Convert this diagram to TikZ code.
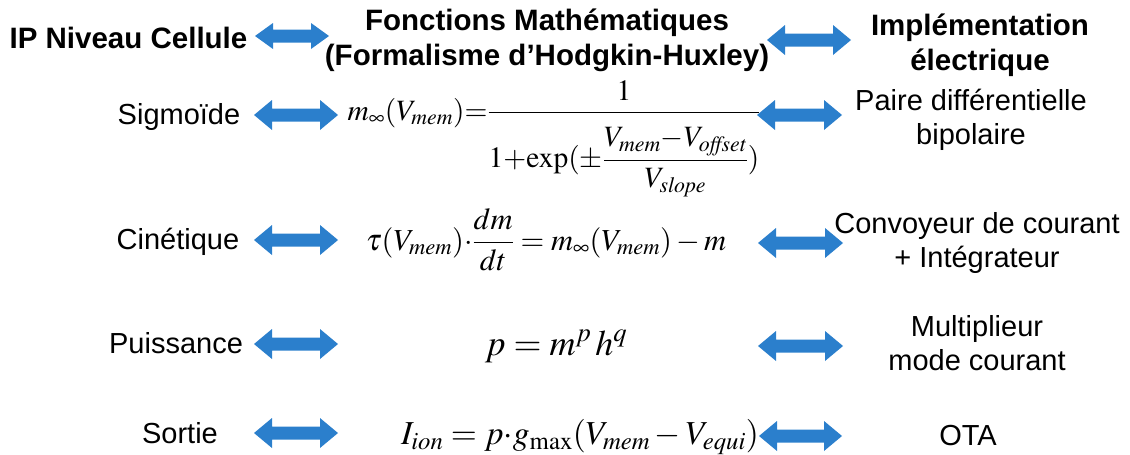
\documentclass[tikz,border=0pt]{standalone}
\usepackage{mathptmx}
\usepackage[no-math]{fontspec}
\setmainfont{Liberation Sans}
\definecolor{arrowblue}{RGB}{43,127,204}
\tikzset{
  blockarrow/.style={fill=arrowblue, draw=none},
  headtxt/.style={font=\fontsize{29.5}{35}\selectfont\bfseries, align=center, inner sep=0pt},
  lbltxt/.style={font=\fontsize{29}{34}\selectfont, align=center, inner sep=0pt},
  eqn/.style={inner sep=0pt, anchor=base}
}
% #1 left tip x, #2 right tip x, #3 centre y, #4 half head height
\newcommand{\dblarr}[4]{%
  \path[blockarrow] (#1,#3) -- (#1+18,#3-#4) -- (#1+18,#3-6.5) -- (#2-18,#3-6.5)
    -- (#2-18,#3-#4) -- (#2,#3) -- (#2-18,#3+#4) -- (#2-18,#3+6.5)
    -- (#1+18,#3+6.5) -- (#1+18,#3+#4) -- cycle;}
\begin{document}
\begin{tikzpicture}[x=1pt,y=-1pt]
\useasboundingbox (0,0) rectangle (1130,455);
% headers
\node[headtxt] (h1) at (128.5,38) {IP Niveau Cellule};
\node[headtxt] (h2) at (547,40) {Fonctions Mathématiques\\(Formalisme d’Hodgkin-Huxley)};
\node[headtxt] (h3) at (980,45) {Implémentation\\électrique};
% left labels
\node[lbltxt] (l1) at (179,117) {Sigmoïde};
\node[lbltxt] (l2) at (178,242) {Cinétique};
\node[lbltxt] (l3) at (176,343) {Puissance};
\node[lbltxt] (l4) at (180,433) {Sortie};
% right labels
\node[lbltxt] (r1) at (971,120) {Paire différentielle\\bipolaire};
\node[lbltxt] (r2) at (977,243) {Convoyeur de courant\\+ Intégrateur};
\node[lbltxt] (r3) at (977,343) {Multiplieur\\mode courant};
\node[lbltxt] (r4) at (968,436) {OTA};
% equations
\node[eqn, font=\fontsize{29.5}{35}\selectfont] (e1) at (554,120)
  {$\displaystyle m_\infty(V_{\mathit{mem}}){=}\frac{1\rule[-8pt]{0pt}{0pt}}{1{+}\mathrm{exp}({\pm}{\displaystyle\frac{\rule{0pt}{30pt}V_{\mathit{mem}}{-}V_{\mathit{offset}}}{V_{\mathit{slope}}}})}$};
\node[eqn, font=\fontsize{30.5}{36}\selectfont] (e2) at (546,250)
  {$\displaystyle \tau(V_{\mathit{mem}}){\cdot}\frac{dm}{dt}=m_\infty(V_{\mathit{mem}})-m$};
\node[eqn, font=\fontsize{36}{42}\selectfont] (e3) at (556,355)
  {$p = m^p\,h^q$};
\node[eqn, font=\fontsize{33.5}{40}\selectfont] (e4) at (580,444)
  {$I_{\mathit{ion}} = p{\cdot}g_{\mathrm{max}}(V_{\mathit{mem}} - V_{\mathit{equi}})$};
% arrows
\dblarr{255}{329}{36}{13}
\dblarr{767}{851}{40}{15}
\dblarr{254}{338}{115}{15}
\dblarr{757}{842}{115}{15}
\dblarr{254}{338}{240}{15}
\dblarr{758}{843}{243}{15}
\dblarr{254}{338}{344}{15}
\dblarr{758}{843}{346}{15}
\dblarr{254}{338}{433}{15}
\dblarr{759}{842}{436}{15}
\end{tikzpicture}
\end{document}
